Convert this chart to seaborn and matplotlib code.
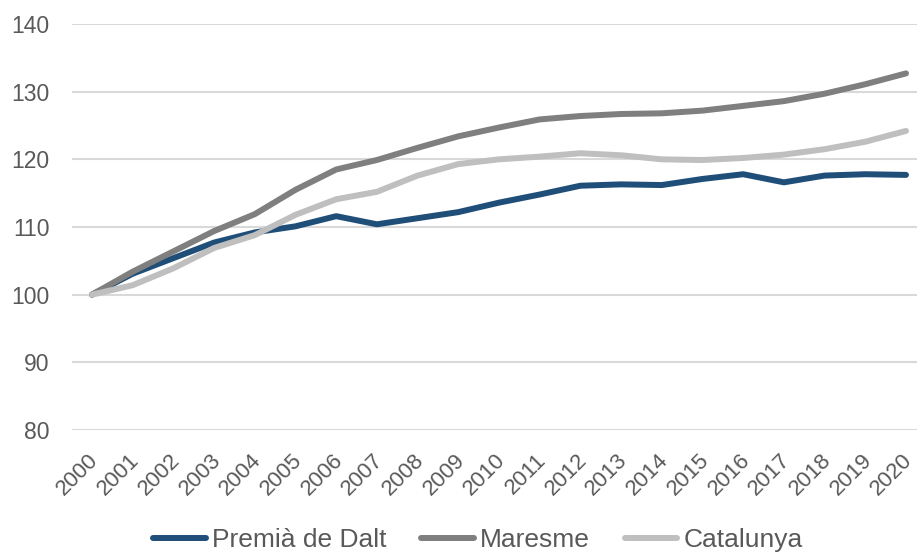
import matplotlib
matplotlib.use("Agg")
import matplotlib.pyplot as plt
import matplotlib.transforms as mtransforms
import seaborn as sns
import pandas as pd

years = list(range(2000, 2021))
premia = [100, 103.1, 105.4, 107.7, 109.2, 110.1, 111.6, 110.4, 111.3, 112.2, 113.6,
          114.8, 116.1, 116.3, 116.2, 117.1, 117.8, 116.6, 117.6, 117.8, 117.7]
maresme = [100, 103.4, 106.4, 109.4, 111.9, 115.5, 118.5, 119.9, 121.7, 123.4, 124.7,
           125.9, 126.4, 126.7, 126.8, 127.2, 127.9, 128.6, 129.7, 131.1, 132.7]
catalunya = [100, 101.4, 103.9, 106.9, 108.8, 111.8, 114.1, 115.2, 117.6, 119.3, 120.0,
             120.4, 120.9, 120.6, 120.0, 119.9, 120.2, 120.7, 121.5, 122.6, 124.2]
series_names = ["Premià de Dalt", "Maresme", "Catalunya"]
colors = ["#1F4E79", "#7F7F7F", "#BFBFBF"]
yticks = [80, 90, 100, 110, 120, 130, 140]

df = pd.DataFrame({
    "year": years * 3,
    "value": premia + maresme + catalunya,
    "serie": [series_names[0]] * 21 + [series_names[1]] * 21 + [series_names[2]] * 21,
})

sns.set_theme(style="white")
plt.rcParams["font.family"] = ["Liberation Sans", "DejaVu Sans"]

W, H = 917, 554
fig = plt.figure(figsize=(W / 100, H / 100), dpi=100)
ax = fig.add_axes([72 / W, 1 - 430 / H, 1 - 72 / W, (430 - 24) / H])

sns.lineplot(data=df, x="year", y="value", hue="serie", palette=colors,
             hue_order=series_names, linewidth=4.3, ax=ax, legend=True,
             solid_capstyle="round", solid_joinstyle="round")

text_color = "#595959"
ax.set_ylim(80, 140)
ax.set_yticks(yticks)
ax.set_yticklabels([str(t) for t in yticks], fontsize=16.5, color=text_color)
step = (906 - 92) / 20
ax.set_xlim(2000 - 20 / step, 2020 + 11 / step)
ax.set_xticks(years)
ax.set_xticklabels([str(y) for y in years], rotation=45, ha="right", va="top",
                   rotation_mode="anchor", fontsize=16, color=text_color)
ax.tick_params(axis="x", pad=14, length=0)
ax.tick_params(axis="y", pad=16, length=0)
offset = mtransforms.ScaledTranslation(-4 / 100, 0, fig.dpi_scale_trans)
for lab in ax.get_xticklabels():
    lab.set_transform(lab.get_transform() + offset)
ax.grid(axis="y", color="#D9D9D9", linewidth=1.5)
ax.set_axisbelow(True)
for s in ax.spines.values():
    s.set_visible(False)
ax.set_xlabel("")
ax.set_ylabel("")

handles, labels = ax.get_legend_handles_labels()
ax.get_legend().remove()
leg = fig.legend(handles, labels, loc="center", bbox_to_anchor=(478 / W, 1 - 540 / H),
                 ncol=3, frameon=False, fontsize=19, handlelength=2.0,
                 handletextpad=0.25, columnspacing=1.3, labelcolor=text_color,
                 borderpad=0, borderaxespad=0)
for line in leg.get_lines():
    line.set_linewidth(4.3)
    line.set_solid_capstyle("round")

fig.savefig("out.png", dpi=100)
